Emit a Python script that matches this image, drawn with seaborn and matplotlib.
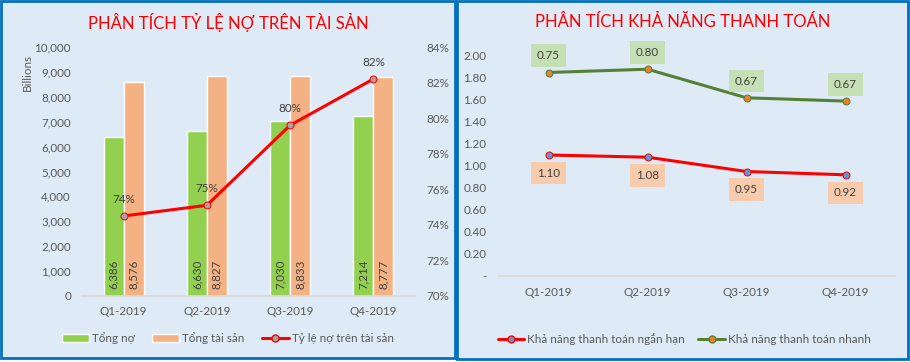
import numpy as np
import pandas as pd
import matplotlib.pyplot as plt
import seaborn as sns
from matplotlib.patches import Rectangle, Patch
from matplotlib.lines import Line2D

# ------------------------------
# Data
# ------------------------------
quarters = ["Q1-2019", "Q2-2019", "Q3-2019", "Q4-2019"]
tong_no = [6386, 6630, 7030, 7214]            # Billions
tong_tai_san = [8576, 8827, 8833, 8777]       # Billions
ty_le_no = [74.5, 75.1, 79.6, 82.2]           # %
ty_le_labels = ["74%", "75%", "80%", "82%"]
ngan_han = [1.10, 1.08, 0.95, 0.92]           # current ratio
nhanh = [0.75, 0.80, 0.67, 0.67]              # quick ratio (stacked on top)

# colours
BG = "#DEEBF7"
BORDER = "#0070C0"
GREEN = "#92D050"
ORANGE = "#F4B183"
DARK_GREEN = "#548235"
TXT = "#595959"
LBL = "#404040"
FS = 8.4

sns.set_theme(style="white")
plt.rcParams["font.family"] = ["Lato", "DejaVu Sans"]

W, H = 910, 362
fig = plt.figure(figsize=(W / 100, H / 100), dpi=100)
fig.patch.set_facecolor("white")


def px(x0, y0, x1, y1):
    # pixel box (top-left origin) -> figure fraction [l, b, w, h]
    return [x0 / W, 1 - y1 / H, (x1 - x0) / W, (y1 - y0) / H]


# panel backgrounds
for box in [(1, 1, 455, 358), (457, 1, 908, 359)]:
    l, b, w, h = px(*box)
    fig.add_artist(Rectangle((l, b), w, h, transform=fig.transFigure,
                             facecolor=BG, edgecolor=BORDER, linewidth=2, zorder=0))

# ------------------------------
# Left chart - debt / assets
# ------------------------------
ax1 = fig.add_axes(px(82, 47, 415, 296))
ax1.set_facecolor("none")
df_bar = pd.DataFrame({
    "quarter": quarters * 2,
    "value": tong_no + tong_tai_san,
    "series": ["Tổng nợ"] * 4 + ["Tổng tài sản"] * 4,
})
sns.barplot(data=df_bar, x="quarter", y="value", hue="series",
            palette=[GREEN, ORANGE], width=0.48, gap=0, saturation=1,
            legend=False, ax=ax1)
ax1.set_xlim(-0.5, 3.5)
ax1.set_ylim(0, 10000)
ax1.set_yticks(range(0, 10001, 1000))
ax1.set_yticklabels([f"{v:,}" for v in range(0, 10001, 1000)])
ax1.set_xlabel("")
ax1.set_ylabel("")
ax1.tick_params(axis="both", length=0, colors=TXT, labelsize=FS)
ax1.tick_params(axis="y", pad=8)
ax1.tick_params(axis="x", pad=7)
for s in ["left", "right", "top"]:
    ax1.spines[s].set_visible(False)
ax1.spines["bottom"].set_color("#D9D9D9")

for p in ax1.patches:
    ax1.annotate(f"{p.get_height():,.0f}", (p.get_x() + p.get_width() / 2, 0),
                 xytext=(0, 5), textcoords="offset points", rotation=90,
                 ha="center", va="bottom", fontsize=8.3, color=LBL)

ax1r = ax1.twinx()
ax1r.set_facecolor("none")
sns.lineplot(x=quarters, y=ty_le_no, sort=False, ax=ax1r, color="red",
             linewidth=2.2, marker="o", markersize=5,
             markerfacecolor="#A5A5A5", markeredgecolor="red")
ax1r.set_ylim(70, 84)
ax1r.set_yticks(range(70, 85, 2))
ax1r.set_yticklabels([f"{v}%" for v in range(70, 85, 2)])
ax1r.tick_params(axis="y", length=0, colors=TXT, labelsize=FS, pad=8)
for s in ax1r.spines.values():
    s.set_visible(False)
xs = ax1r.lines[0].get_xdata()
for x, y, lab in zip(xs, ty_le_no, ty_le_labels):
    ax1r.annotate(lab, (x, y), xytext=(0, 12), textcoords="offset points",
                  ha="center", va="center", fontsize=FS, color=LBL)

fig.text(27 / W, 1 - 72 / H, "Billions", rotation=90, ha="center", va="center",
         fontsize=FS, color=TXT)
fig.text(228 / W, 1 - 22 / H, "PHÂN TÍCH TỶ LỆ NỢ TRÊN TÀI SẢN", ha="center",
         va="center", fontsize=12, color="red")

h1 = [Patch(facecolor=GREEN), Patch(facecolor=ORANGE),
      Line2D([], [], color="red", linewidth=2.2, marker="o", markersize=5,
             markerfacecolor="#A5A5A5", markeredgecolor="red")]
leg1 = fig.legend(h1, ["Tổng nợ", "Tổng tài sản", "Tỷ lệ nợ trên tài sản"],
                  loc="center", bbox_to_anchor=(228 / W, 1 - 338 / H), ncol=3,
                  frameon=False, fontsize=FS, handlelength=2.3,
                  handletextpad=0.25, columnspacing=1.5)
for t in leg1.get_texts():
    t.set_color(TXT)

# ------------------------------
# Right chart - liquidity (stacked lines)
# ------------------------------
ax2 = fig.add_axes(px(499, 56, 895, 276))
ax2.set_facecolor("none")
nhanh_stacked = np.add(ngan_han, nhanh)
sns.lineplot(x=quarters, y=ngan_han, sort=False, ax=ax2, color="red",
             linewidth=2.2, marker="o", markersize=5,
             markerfacecolor="#5B9BD5", markeredgecolor="red")
sns.lineplot(x=quarters, y=nhanh_stacked, sort=False, ax=ax2, color=DARK_GREEN,
             linewidth=2.2, marker="o", markersize=5,
             markerfacecolor="#ED7D31", markeredgecolor=DARK_GREEN)
ax2.set_xlim(-0.5, 3.5)
ax2.set_ylim(0, 2.0)
yt = np.arange(0, 2.01, 0.2)
ax2.set_yticks(yt)
ax2.set_yticklabels(["-"] + [f"{v:.2f}" for v in yt[1:]])
ax2.tick_params(axis="both", length=0, colors=TXT, labelsize=FS)
ax2.tick_params(axis="y", pad=9)
ax2.tick_params(axis="x", pad=8)
for s in ["left", "right", "top"]:
    ax2.spines[s].set_visible(False)
ax2.spines["bottom"].set_color("#D9D9D9")

xs2 = ax2.lines[0].get_xdata()
for x, y, v in zip(xs2, ngan_han, ngan_han):
    ax2.annotate(f"{v:.2f}", (x, y), xytext=(0, -13), textcoords="offset points",
                 ha="center", va="center", fontsize=FS, color=LBL,
                 bbox=dict(boxstyle="square,pad=0.5", facecolor="#F8CBAD", edgecolor="none"))
for x, y, v in zip(xs2, nhanh_stacked, nhanh):
    ax2.annotate(f"{v:.2f}", (x, y), xytext=(0, 12), textcoords="offset points",
                 ha="center", va="center", fontsize=FS, color=LBL,
                 bbox=dict(boxstyle="square,pad=0.5", facecolor="#C5E0B4", edgecolor="none"))

fig.text(683 / W, 1 - 22 / H, "PHÂN TÍCH KHẢ NĂNG THANH TOÁN", ha="center",
         va="center", fontsize=12, color="red")

h2 = [Line2D([], [], color="red", linewidth=2.2, marker="o", markersize=5,
             markerfacecolor="#5B9BD5", markeredgecolor="red"),
      Line2D([], [], color=DARK_GREEN, linewidth=2.2, marker="o", markersize=5,
             markerfacecolor="#ED7D31", markeredgecolor=DARK_GREEN)]
leg2 = fig.legend(h2, ["Khả năng thanh toán ngắn hạn", "Khả năng thanh toán nhanh"],
                  loc="center", bbox_to_anchor=(684 / W, 1 - 339 / H), ncol=2,
                  frameon=False, fontsize=FS, handlelength=2.3,
                  handletextpad=0.2, columnspacing=1.2)
for t in leg2.get_texts():
    t.set_color(TXT)

fig.savefig("out.png", dpi=100, facecolor="white")
